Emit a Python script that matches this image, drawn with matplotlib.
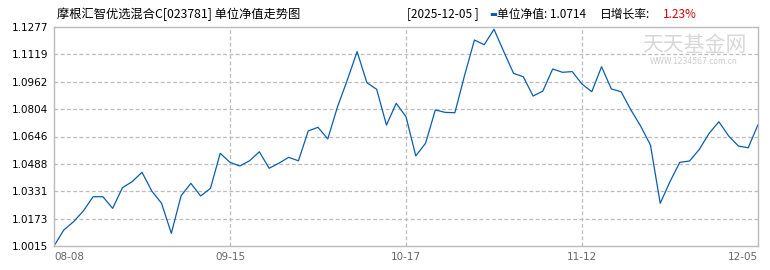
import numpy as np
import matplotlib.pyplot as plt

plt.rcParams['font.family'] = ['Noto Sans CJK SC', 'DejaVu Sans']

# unit NAV (08-08 .. 12-05)
nav = [1.0015, 1.0107, 1.0155, 1.0217, 1.0299, 1.0299, 1.0232, 1.0351, 1.0386, 1.0440,
       1.0332, 1.0261, 1.0088, 1.0305, 1.0376, 1.0303, 1.0347, 1.0549, 1.0497, 1.0476,
       1.0506, 1.0558, 1.0463, 1.0492, 1.0526, 1.0506, 1.0678, 1.0699, 1.0632, 1.0818,
       1.0972, 1.1135, 1.0956, 1.0918, 1.0712, 1.0837, 1.0760, 1.0534, 1.0607, 1.0799,
       1.0785, 1.0783, 1.1000, 1.1202, 1.1175, 1.1264, 1.1135, 1.1010, 1.0990, 1.0879,
       1.0908, 1.1035, 1.1016, 1.1020, 1.0948, 1.0904, 1.1048, 1.0920, 1.0904, 1.0799,
       1.0706, 1.0597, 1.0261, 1.0386, 1.0497, 1.0505, 1.0572, 1.0664, 1.0731, 1.0649,
       1.0591, 1.0581, 1.0714]
date_labels = ['08-08', '09-15', '10-17', '11-12', '12-05']
y_labels = ['1.0015', '1.0173', '1.0331', '1.0488', '1.0646',
            '1.0804', '1.0962', '1.1119', '1.1277']

last_date = '2025-12-05'
last_nav = 1.0714
day_growth = '1.23%'
title = '摩根汇智优选混合C[023781] 单位净值走势图'

W, H = 770, 270
fig = plt.figure(figsize=(W / 100, H / 100), dpi=100)
ax = fig.add_axes([54 / W, 1 - 246 / H, 704 / W, 219 / H])

x = np.arange(len(nav))
ax.plot(x, nav, color='#0a5db0', lw=0.9)

y_min, y_max = float(y_labels[0]), float(y_labels[-1])
ax.set_xlim(0, len(nav) - 1)
ax.set_ylim(y_min, y_max)

yt = np.linspace(y_min, y_max, len(y_labels))
ax.set_yticks(yt)
ax.set_yticklabels(y_labels, fontsize=7.5, color='black', family='DejaVu Sans')
xt = np.linspace(0, len(nav) - 1, len(date_labels))
ax.set_xticks(xt)
ax.set_xticklabels(date_labels, fontsize=7.5, color='#666666', family='DejaVu Sans')
labels = ax.get_xticklabels()
labels[0].set_ha('left')
labels[-1].set_ha('right')
ax.tick_params(length=0, pad=4)

for v in yt[1:-1]:
    ax.axhline(v, color='#bbbbbb', lw=0.9, ls=(0, (3, 2)), zorder=0)
for v in xt[1:-1]:
    ax.axvline(v, color='#bbbbbb', lw=0.9, ls=(0, (3, 2)), zorder=0)

for s in ax.spines.values():
    s.set_color('#bbbbbb')
    s.set_linewidth(1.0)

# watermark
fig.text(694 / W, 1 - 45 / H, '天天基金网', fontsize=15, color='#d8d8d8',
         ha='center', va='center', zorder=0)
fig.text(694 / W, 1 - 62 / H, 'WWW.1234567.com.cn', fontsize=5.5, color='#cccccc',
         ha='center', va='center', family='DejaVu Sans', zorder=0)

# header
fig.text(57 / W, 1 - 14 / H, title, fontsize=8.8, ha='left', va='center')
fig.text(407 / W, 1 - 14 / H, f'[{last_date} ]', fontsize=8.5, ha='left', va='center')
fig.text(489 / W, 1 - 14 / H, '▬', fontsize=6, color='#0a5db0', ha='left', va='center',
         family='DejaVu Sans')
fig.text(497 / W, 1 - 14 / H, f'单位净值: {last_nav:.4f}', fontsize=8.5, ha='left', va='center')
fig.text(600 / W, 1 - 14 / H, '日增长率:', fontsize=8.5, ha='left', va='center')
fig.text(663 / W, 1 - 14 / H, day_growth, fontsize=8.5, color='#dd0000', ha='left', va='center')

fig.savefig('out.png', dpi=100)
